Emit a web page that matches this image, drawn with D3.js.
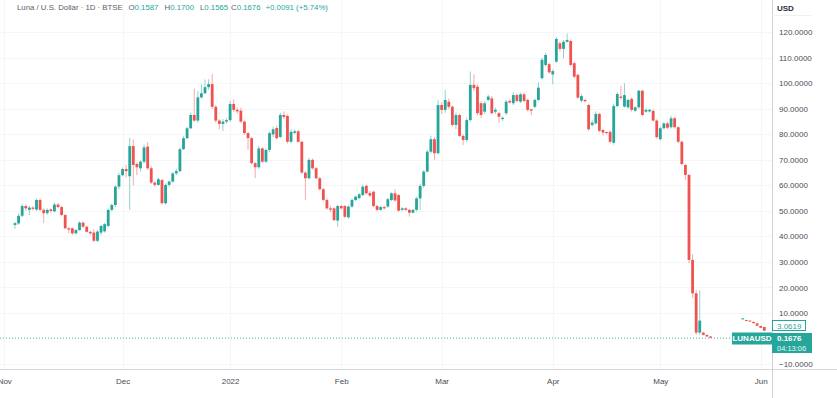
<!DOCTYPE html>
<html><head><meta charset="utf-8">
<script src="https://cdn.jsdelivr.net/npm/d3@7/dist/d3.min.js"></script>
<style>
body{margin:0;background:#fff;}
svg{display:block;font-family:"Liberation Sans",Arial,sans-serif;}
</style>
</head><body>
<svg id="c" width="837" height="398"></svg>
<script>
// ---- data ----
const openP = [44.5,45.1,48.1,51.9,50.4,51.3,50.5,54.3,50.4,49.1,50.6,49.8,52.5,51.5,48.4,43.2,43.2,41.2,42.5,45.4,
43.8,41.8,41.5,38.3,41.5,42.0,44.1,50.4,52.3,59.5,64.0,66.4,63.6,75.4,68.4,66.7,69.3,75.2,66.7,61.1,
60.2,62.1,53.0,60.2,61.5,64.7,65.6,74.2,78.5,82.4,87.6,85.4,94.5,96.1,98.5,99.7,90.8,85.4,84.1,85.0,
85.6,91.9,89.6,89.3,85.0,80.5,78.5,68.7,67.1,74.5,69.3,73.9,80.0,82.5,79.0,87.6,87.2,77.1,80.6,81.2,
77.1,65.0,62.8,70.0,66.7,62.8,58.5,54.3,51.0,51.0,46.2,51.9,51.9,47.5,51.7,54.3,55.0,56.2,59.8,57.0,
57.5,51.9,50.4,51.5,51.7,54.3,56.9,56.2,50.4,51.0,50.4,49.3,50.4,54.9,59.8,65.4,73.2,78.1,72.6,91.5,
89.6,92.8,90.8,83.7,87.6,79.4,77.8,85.6,99.4,98.7,92.2,88.9,93.5,94.1,88.9,88.3,86.0,88.3,93.1,92.2,
95.4,92.8,95.7,93.5,89.8,90.8,93.5,102.0,107.2,107.5,103.5,108.5,115.7,113.5,116.3,116.6,107.9,103.3,93.2,93.5,
91.5,83.7,84.3,88.0,81.7,80.9,81.0,76.7,91.1,94.8,90.9,90.6,93.9,89.3,90.6,97.1,88.9,89.0,89.2,85.4,
78.1,82.4,84.3,82.8,86.3,82.8,77.1,68.0,64.1,30.8,17.7,2.3,2.3,1.4,0.8];
const highP = [45.6,49.0,52.8,52.5,52.0,51.8,54.8,54.8,51.0,51.0,51.0,53.3,53.0,52.0,48.6,43.5,43.4,43.0,46.0,45.8,
44.2,42.2,42.8,42.5,44.6,45.3,51.0,53.0,60.0,65.0,67.0,68.0,78.6,78.0,69.0,69.8,76.0,77.0,67.5,61.5,
63.0,62.5,60.8,62.0,65.2,66.5,74.8,79.2,83.0,88.5,98.0,97.0,99.5,101.5,101.6,103.7,91.5,86.0,86.0,86.3,
93.0,93.8,90.5,90.5,85.5,81.0,79.0,69.2,75.5,75.0,74.5,81.0,83.0,83.5,88.5,89.0,87.8,82.0,82.0,81.8,
77.5,65.5,70.8,70.5,67.2,63.3,59.0,54.8,52.0,51.5,52.5,52.3,52.3,52.2,54.8,56.0,57.0,60.2,60.3,57.8,
58.0,52.3,52.0,52.0,55.0,57.3,58.5,56.7,51.5,51.4,50.8,50.8,55.5,60.5,66.0,74.0,79.5,79.0,93.5,92.5,
97.4,94.0,91.5,88.5,88.0,80.0,86.5,104.6,103.5,99.5,93.0,93.0,95.5,95.0,90.5,88.8,87.0,93.5,93.8,96.5,
96.0,96.3,96.3,94.0,90.0,94.0,100.4,110.0,112.0,108.2,105.5,118.0,116.5,117.0,119.6,117.2,108.5,103.8,95.8,93.8,
92.0,85.5,89.0,88.5,82.0,81.2,81.5,92.0,96.5,99.0,100.0,94.0,94.5,91.0,97.5,97.5,90.3,90.0,89.8,85.8,
83.0,84.8,85.0,87.3,86.8,83.2,77.5,68.5,64.5,33.0,19.0,19.0,2.6,1.5,0.9];
const lowP = [43.0,44.5,47.5,50.0,48.3,50.2,50.0,49.8,45.2,48.5,49.3,49.5,51.0,48.0,42.8,41.2,40.5,40.8,42.2,43.2,
41.5,40.6,37.8,37.8,40.5,41.5,43.5,49.8,51.5,58.5,63.5,63.0,50.4,60.0,64.0,65.5,68.5,66.0,60.5,59.5,
59.8,52.5,52.5,59.5,61.0,64.0,65.2,73.8,78.0,82.0,84.8,84.5,94.0,95.8,97.5,90.0,84.5,82.0,81.4,84.2,
85.0,88.8,88.0,84.5,79.8,73.9,68.2,62.8,66.5,68.8,68.8,73.0,79.0,78.0,78.5,86.0,76.5,76.5,80.0,76.8,
64.5,54.3,62.3,66.2,62.3,58.0,53.8,50.5,49.5,46.0,43.8,50.6,47.2,47.0,51.2,53.8,54.5,55.8,56.4,55.5,
51.4,49.9,50.0,50.6,51.2,53.8,53.6,49.6,50.0,50.1,47.8,49.0,49.8,50.4,59.0,65.0,72.5,70.0,72.0,88.0,
88.5,90.0,83.0,82.0,79.0,75.8,77.0,85.0,97.0,87.5,86.5,88.0,93.0,87.8,88.0,84.5,85.3,87.5,92.0,91.5,
92.5,92.3,92.6,89.0,87.5,90.3,93.0,101.5,106.5,103.8,99.6,108.0,112.5,109.8,115.8,106.5,102.0,94.0,92.5,92.5,
81.5,83.0,83.8,80.8,79.5,80.0,76.5,76.0,90.5,93.5,90.5,90.0,89.0,88.8,90.0,87.0,88.5,88.5,85.0,78.3,
77.5,82.0,82.0,82.3,82.3,76.5,67.8,62.0,29.5,16.0,1.5,1.5,1.2,0.6,0.2];
const closeP = [45.2,48.1,51.9,51.0,51.3,50.8,54.3,50.4,49.1,50.4,50.0,52.5,51.5,48.4,43.2,42.7,41.2,42.5,45.4,43.8,
41.8,41.2,38.3,41.9,44.1,44.8,50.4,52.3,59.5,64.0,66.4,65.6,75.4,68.0,67.1,69.3,74.9,66.7,61.1,60.2,
62.4,53.0,60.2,61.5,64.7,65.6,74.2,78.5,82.4,87.6,85.4,94.5,96.1,98.5,99.7,90.8,85.4,84.1,85.0,85.6,
91.9,89.6,89.0,85.0,80.5,78.5,68.7,67.1,74.5,69.3,73.9,80.5,82.0,78.5,87.6,86.8,77.1,81.0,81.2,77.1,
65.0,62.8,70.0,66.7,62.8,58.5,54.3,51.0,50.5,46.4,51.9,51.0,47.7,51.7,54.3,55.6,56.5,59.5,56.9,56.0,
51.9,50.4,51.5,51.0,54.6,56.9,54.1,50.1,51.0,50.4,49.3,50.4,54.9,59.8,65.4,73.2,78.1,72.6,91.5,89.6,
93.5,90.8,83.7,87.6,79.4,77.8,85.6,99.4,98.1,88.3,87.6,92.2,94.8,88.3,89.6,86.9,86.5,92.8,92.5,95.4,
93.1,95.7,93.1,89.6,89.3,93.5,98.3,109.2,111.1,104.3,104.8,117.4,113.5,116.3,117.0,107.2,102.6,94.4,95.0,93.0,
82.0,84.6,88.0,81.4,80.7,80.7,77.1,91.1,95.8,94.3,95.4,93.5,89.6,90.6,97.1,87.6,89.6,89.6,85.4,78.9,
82.4,84.3,82.6,86.3,82.8,77.1,68.4,64.1,30.8,17.7,2.3,7.0,1.4,0.8,0.3];

// second (overlay) series at the right edge
const newIndex = [203,204,205,206,207,208,209];
const newOpen  = [7.6,7.2,7.0,6.5,5.9,4.9,4.5];
const newHigh  = [8.0,7.3,7.1,6.6,6.0,5.0,4.6];
const newLow   = [7.5,6.9,6.7,5.9,4.9,4.1,2.9];
const newClose = [7.9,7.0,6.8,6.0,5.0,4.2,3.0619];

const priceTicks = [-10,10,20,30,40,50,60,70,80,90,100,110,120];
const timeTickIdx = [-3,30,60,91,119,150,180,208];
const timeTickLbl = ["Nov","Dec","2022","Feb","Mar","Apr","May","Jun"];
const headerOHLC = [0.1587,0.1700,0.1565,0.1676];
const lastChange = "+0.0091 (+5.74%)";
const lastPrice = 0.1676;
const countdown = "04:13:06";
const overlayLast = 3.0619;

// ---- drawing ----
const UP="#26a69a", DN="#ef5350";
const svg=d3.select("#c");
const plotR=772, axisY=369;
const x=d3.scaleLinear().domain([0,188]).range([15,689]);
const y=d3.scaleLinear().domain([-10,120]).range([364,32.3]);

svg.append("rect").attr("width",837).attr("height",398).attr("fill","#fff");
svg.append("defs").append("clipPath").attr("id","pc").append("rect")
  .attr("x",0).attr("y",0).attr("width",plotR).attr("height",axisY);

// grid
const grid=svg.append("g").attr("stroke","#f5f6f8").attr("stroke-width",1);
priceTicks.concat([0]).forEach(v=>{
  const yy=Math.round(y(v))+0.5;
  grid.append("line").attr("x1",0).attr("x2",plotR).attr("y1",yy).attr("y2",yy);
});
timeTickIdx.forEach(i=>{
  const xx=Math.round(x(i))+0.5;
  grid.append("line").attr("x1",xx).attr("x2",xx).attr("y1",0).attr("y2",axisY);
});

// price line (dotted)
const plY=y(lastPrice);
svg.append("line").attr("x1",0).attr("x2",plotR).attr("y1",plY).attr("y2",plY)
  .attr("stroke",UP).attr("stroke-width",1).attr("stroke-dasharray","1,2").attr("opacity",0.8);

// candles
const main=openP.map((o,i)=>({i,o,h:highP[i],l:lowP[i],c:closeP[i]}));
const ov=newIndex.map((i,k)=>({i,o:newOpen[k],h:newHigh[k],l:newLow[k],c:newClose[k]}));
const cg=svg.append("g").attr("clip-path","url(#pc)");
function drawCandles(data){
  const g=cg.append("g");
  g.selectAll("line.w").data(data).join("line").attr("class","w")
    .attr("x1",d=>x(d.i)).attr("x2",d=>x(d.i))
    .attr("y1",d=>y(d.h)).attr("y2",d=>y(d.l))
    .attr("stroke",d=>d.c>=d.o?UP:DN).attr("stroke-opacity",0.5).attr("stroke-width",1);
  g.selectAll("rect.b").data(data).join("rect").attr("class","b")
    .attr("x",d=>x(d.i)-1.4).attr("width",2.8)
    .attr("y",d=>y(Math.max(d.o,d.c)))
    .attr("height",d=>Math.max(1,Math.abs(y(d.o)-y(d.c))))
    .attr("fill",d=>d.c>=d.o?UP:DN);
}
drawCandles(main);
drawCandles(ov);

// axis frame lines
svg.append("line").attr("x1",0).attr("x2",837).attr("y1",axisY+0.5).attr("y2",axisY+0.5)
  .attr("stroke","#d6d8dd");
svg.append("line").attr("x1",plotR+0.5).attr("x2",plotR+0.5).attr("y1",0).attr("y2",398)
  .attr("stroke","#cfd1d6");
svg.append("line").attr("x1",plotR).attr("x2",812).attr("y1",15.5).attr("y2",15.5)
  .attr("stroke","#f0f0f0");

// price axis
const pa=svg.append("g").attr("transform",`translate(${plotR+4},0)`)
  .call(d3.axisRight(y).tickValues(priceTicks).tickSize(0).tickFormat(d3.format(".4f")));
pa.select(".domain").remove();
pa.selectAll("text").attr("font-size",8).attr("fill","#4a4d55")
  .attr("font-family","'Liberation Sans',Arial,sans-serif").attr("dx",0);
svg.append("text").attr("x",777).attr("y",10.5).attr("font-size",8).attr("font-weight","bold")
  .attr("fill","#2a2e39").text("USD");

// time axis
const ta=svg.append("g").attr("transform",`translate(0,${axisY+6})`)
  .call(d3.axisBottom(x).tickValues(timeTickIdx).tickSize(0)
    .tickFormat((d,k)=>timeTickLbl[k]));
ta.select(".domain").remove();
ta.selectAll("text").attr("font-size",8).attr("fill","#4a4d55")
  .attr("font-family","'Liberation Sans',Arial,sans-serif");

// overlay last-price label
svg.append("rect").attr("x",plotR+0.5).attr("y",320.5).attr("width",33).attr("height",10)
  .attr("fill","#fff").attr("stroke",UP).attr("stroke-width",1);
svg.append("text").attr("x",777).attr("y",328.7).attr("font-size",8).attr("fill",UP)
  .text(d3.format(".4f")(overlayLast));

// main last-price labels
svg.append("rect").attr("x",732).attr("y",332.5).attr("width",40).attr("height",12).attr("fill",UP);
svg.append("text").attr("x",752).attr("y",341.3).attr("text-anchor","middle").attr("font-size",8)
  .attr("font-weight","bold").attr("fill","#fff").text("LUNAUSD");
svg.append("rect").attr("x",plotR).attr("y",333).attr("width",40).attr("height",20).attr("fill",UP);
svg.append("text").attr("x",777).attr("y",341.3).attr("font-size",8).attr("font-weight","bold")
  .attr("fill","#fff").text(d3.format(".4f")(lastPrice));
svg.append("text").attr("x",777).attr("y",350.5).attr("font-size",7.5)
  .attr("fill","#e6f6f4").text(countdown);

// header
const hd=svg.append("text").attr("y",10).attr("font-size",7.8).attr("fill","#5d606b");
hd.append("tspan").attr("x",17).text("Luna / U.S. Dollar · 1D · BTSE");
const lab=["O","H","L","C"], lx=[128.5,164.5,200,231];
lab.forEach((l,k)=>{
  hd.append("tspan").attr("x",lx[k]).attr("fill","#5d606b").text(l);
  hd.append("tspan").attr("fill",UP).text(d3.format(".4f")(headerOHLC[k]));
});
hd.append("tspan").attr("x",265.5).attr("fill",UP).text(lastChange);
</script>
</body></html>
